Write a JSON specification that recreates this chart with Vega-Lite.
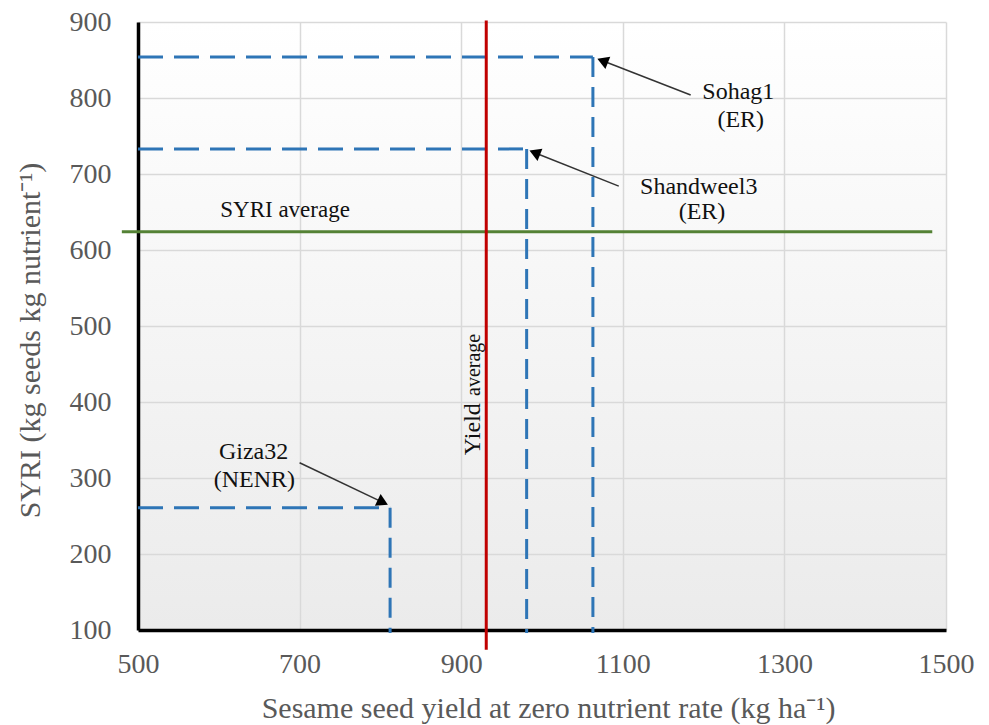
{
  "$schema": "https://vega.github.io/schema/vega-lite/v6.json",
  "width": 808,
  "height": 608,
  "autosize": {"type": "none"},
  "padding": {"left": 138, "top": 22, "right": 43, "bottom": 95},
  "background": "white",
  "config": {
    "font": "Liberation Serif",
    "view": {
      "stroke": null,
      "fill": {"gradient": "linear", "x1": 0, "y1": 0, "x2": 0, "y2": 1,
        "stops": [{"offset": 0, "color": "#ffffff"}, {"offset": 1, "color": "#ebebeb"}]}
    },
    "axis": {
      "grid": true, "gridColor": "#d9d9d9", "gridWidth": 1.5,
      "domainColor": "#000000", "domainWidth": 3.5,
      "ticks": false, "format": "d", "labelFlush": false,
      "labelFont": "Liberation Serif", "labelFontSize": 28, "labelColor": "#595959",
      "titleFont": "Liberation Serif", "titleFontSize": 30, "titleColor": "#595959", "titleFontWeight": "normal"
    }
  },
  "datasets": {
    "varieties": [
      {"name": "Sohag1", "start": 500, "yield": 1063, "syri": 854, "base": 96},
      {"name": "Shandweel3", "start": 500, "yield": 981, "syri": 733, "base": 96},
      {"name": "Giza32", "start": 500, "yield": 812, "syri": 261, "base": 96}
    ],
    "arrows": [
      {"name": "Sohag1", "x1": 1184, "y1": 804, "x2": 1075, "y2": 849, "angle": 292},
      {"name": "Shandweel3", "x1": 1095, "y1": 684, "x2": 991, "y2": 728, "angle": 292},
      {"name": "Giza32", "x1": 700, "y1": 320, "x2": 803, "y2": 268, "angle": 116}
    ],
    "labels": [
      {"text": "Sohag1", "x": 1243, "y": 808, "size": 24},
      {"text": "(ER)", "x": 1246, "y": 771, "size": 24},
      {"text": "Shandweel3", "x": 1194, "y": 683, "size": 24},
      {"text": "(ER)", "x": 1198, "y": 650, "size": 24},
      {"text": "Giza32", "x": 643, "y": 334, "size": 24},
      {"text": "(NENR)", "x": 644, "y": 297, "size": 24},
      {"text": "SYRI average", "x": 682, "y": 653, "size": 23}
    ],
    "vlabels": [
      {"text": "Yield", "x": 923.6, "y": 330, "size": 24},
      {"text": "average", "x": 923.6, "y": 408, "size": 20}
    ],
    "hline": [{"name": "SYRI average", "x1": 480, "x2": 1483, "y": 624}],
    "vline": [{"name": "Yield average", "x": 931, "y1": 902, "y2": 74}]
  },
  "layer": [
    {
      "data": {"name": "varieties"},
      "mark": {"type": "rule", "color": "#2e75b6", "strokeWidth": 3, "strokeDash": [25, 11]},
      "encoding": {
        "x": {"field": "start", "type": "quantitative",
          "scale": {"domain": [500, 1500], "nice": false, "zero": false},
          "axis": {"values": [500, 700, 900, 1100, 1300, 1500], "labelPadding": 20,
            "title": "Sesame seed yield at zero nutrient rate (kg ha⁻¹)",
            "titleX": 410, "titleY": 78, "titleBaseline": "middle", "titleAlign": "center"}},
        "x2": {"field": "yield"},
        "y": {"field": "syri", "type": "quantitative",
          "scale": {"domain": [100, 900], "nice": false, "zero": false},
          "axis": {"values": [100, 200, 300, 400, 500, 600, 700, 800, 900], "labelPadding": 27,
            "title": "SYRI (kg seeds kg nutrient⁻¹)",
            "titleX": -108, "titleY": 318, "titleBaseline": "middle", "titleAlign": "center"}}
      }
    },
    {
      "data": {"name": "varieties"},
      "mark": {"type": "rule", "color": "#2e75b6", "strokeWidth": 3, "strokeDash": [20, 10]},
      "encoding": {
        "x": {"field": "yield", "type": "quantitative"},
        "y": {"field": "syri", "type": "quantitative"},
        "y2": {"field": "base"}
      }
    },
    {
      "data": {"name": "hline"},
      "mark": {"type": "rule", "color": "#548235", "strokeWidth": 3},
      "encoding": {
        "x": {"field": "x1", "type": "quantitative"},
        "x2": {"field": "x2"},
        "y": {"field": "y", "type": "quantitative"}
      }
    },
    {
      "data": {"name": "vline"},
      "mark": {"type": "rule", "color": "#c00000", "strokeWidth": 3},
      "encoding": {
        "x": {"field": "x", "type": "quantitative"},
        "y": {"field": "y1", "type": "quantitative"},
        "y2": {"field": "y2"}
      }
    },
    {
      "data": {"name": "arrows"},
      "mark": {"type": "rule", "color": "#333333", "strokeWidth": 1.5},
      "encoding": {
        "x": {"field": "x1", "type": "quantitative"},
        "x2": {"field": "x2"},
        "y": {"field": "y1", "type": "quantitative"},
        "y2": {"field": "y2"}
      }
    },
    {
      "data": {"name": "arrows"},
      "mark": {"type": "point", "shape": "triangle-up", "filled": true, "color": "#000000", "size": 170, "opacity": 1},
      "encoding": {
        "x": {"field": "x2", "type": "quantitative"},
        "y": {"field": "y2", "type": "quantitative"},
        "angle": {"field": "angle", "type": "quantitative", "scale": null}
      }
    },
    {
      "data": {"name": "labels"},
      "mark": {"type": "text", "color": "#111111", "font": "Liberation Serif", "align": "center", "baseline": "middle"},
      "encoding": {
        "x": {"field": "x", "type": "quantitative"},
        "y": {"field": "y", "type": "quantitative"},
        "text": {"field": "text"},
        "size": {"field": "size", "type": "quantitative", "scale": null}
      }
    },
    {
      "data": {"name": "vlabels"},
      "mark": {"type": "text", "color": "#111111", "font": "Liberation Serif", "align": "left", "baseline": "alphabetic", "angle": 270},
      "encoding": {
        "x": {"field": "x", "type": "quantitative"},
        "y": {"field": "y", "type": "quantitative"},
        "text": {"field": "text"},
        "size": {"field": "size", "type": "quantitative", "scale": null}
      }
    }
  ]
}
